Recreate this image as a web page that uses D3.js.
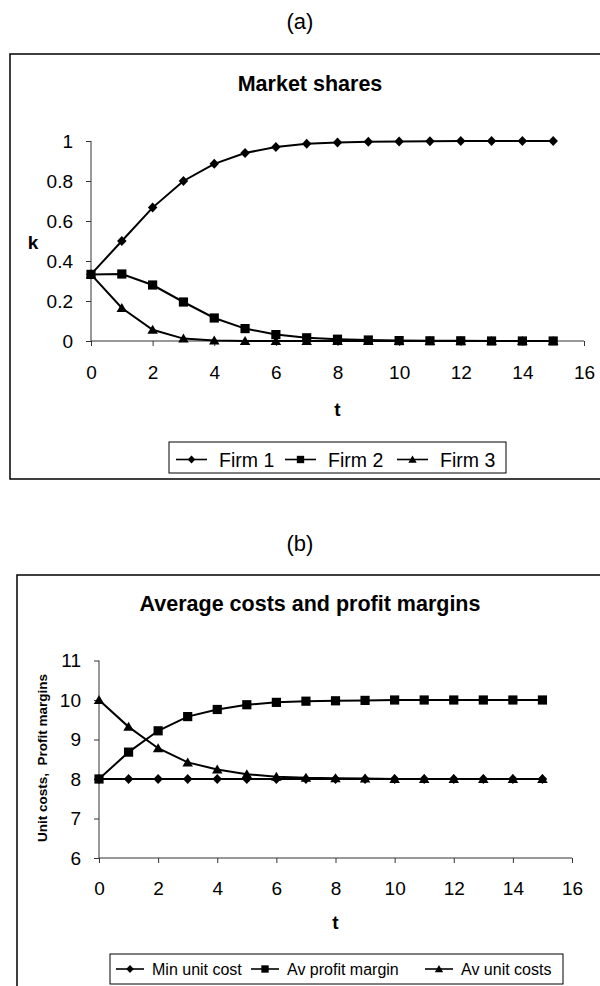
<!DOCTYPE html>
<html>
<head>
<meta charset="utf-8">
<script src="https://cdn.jsdelivr.net/npm/d3@7"></script>
<style>
  html, body { margin: 0; padding: 0; background: #fff; }
  svg { display: block; }
  text { font-family: Arial, "Liberation Sans", sans-serif; fill: #000; }
</style>
</head>
<body>
<svg id="chart" width="600" height="986"></svg>
<script>
// ---- Data ----
const periods = [0,1,2,3,4,5,6,7,8,9,10,11,12,13,14,15];

// Panel (a): market shares
const firm1 = [0.333,0.5,0.667,0.8,0.886,0.94,0.97,0.986,0.992,0.996,0.998,0.999,1,1,1,1];
const firm2 = [0.333,0.335,0.28,0.195,0.115,0.062,0.032,0.016,0.009,0.005,0.002,0.001,0.001,0,0,0];
const firm3 = [0.333,0.165,0.056,0.012,0.002,0,0,0,0,0,0,0,0,0,0,0];
const sharesTicksY = [0,0.2,0.4,0.6,0.8,1];
const sharesTickLabelsY = ["0","0.2","0.4","0.6","0.8","1"];
const ticksX = [0,2,4,6,8,10,12,14,16];
const sharesLegend = ["Firm 1","Firm 2","Firm 3"];

// Panel (b): costs and margins
const minUnitCost = [8,8,8,8,8,8,8,8,8,8,8,8,8,8,8,8];
const avProfitMargin = [8,8.68,9.22,9.58,9.76,9.88,9.94,9.97,9.98,9.99,10,10,10,10,10,10];
const avUnitCosts = [10,9.32,8.78,8.42,8.24,8.12,8.06,8.03,8.02,8.01,8,8,8,8,8,8];
const costTicksY = [6,7,8,9,10,11];
const costLegend = ["Min unit cost","Av profit margin","Av unit costs"];

// ---- Drawing ----
const svg = d3.select("#chart");

function markerPath(shape, s) {
  const p = d3.path();
  if (shape === "diamond") {
    p.moveTo(0,-s); p.lineTo(s*0.95,0); p.lineTo(0,s); p.lineTo(-s*0.95,0); p.closePath();
  } else if (shape === "square") {
    p.rect(-s*0.92,-s*0.92,s*1.84,s*1.84);
  } else {
    p.moveTo(0,-s*1.0); p.lineTo(s*1.05,s*0.8); p.lineTo(-s*1.05,s*0.8); p.closePath();
  }
  return p.toString();
}
const shapes = ["diamond","square","triangle"];

function drawPanel(cfg) {
  const g = svg.append("g");
  const x = d3.scaleLinear().domain([0,16]).range([cfg.x0, cfg.x1]);
  const y = d3.scaleLinear().domain(cfg.yDomain).range([cfg.y0, cfg.y1]);

  // frame
  g.append("path")
    .attr("d", `M${cfg.frame.r},${cfg.frame.t}H${cfg.frame.l}V${cfg.frame.b}` + (cfg.frame.closeBottom ? `H${cfg.frame.r}` : ""))
    .attr("fill","none").attr("stroke","#000").attr("stroke-width",1.5);

  // title
  g.append("text").attr("x", cfg.titleX).attr("y", cfg.titleY)
    .attr("text-anchor","middle").attr("font-weight","bold")
    .attr("font-size", 21.5).text(cfg.title);

  // axes
  const xAxis = d3.axisBottom(x).tickValues(ticksX).tickSize(5).tickPadding(cfg.xPad)
    .tickFormat(d3.format("d"));
  const gx = g.append("g").attr("transform", `translate(0,${cfg.y0})`).call(xAxis);
  const yAxis = d3.axisLeft(y).tickValues(cfg.yTicks).tickSize(5).tickPadding(13)
    .tickFormat((d,i) => cfg.yLabels[i]);
  const gy = g.append("g").attr("transform", `translate(${cfg.x0},0)`).call(yAxis);
  [gx, gy].forEach(a => {
    a.select(".domain").attr("stroke","#333").attr("stroke-width",1);
    a.selectAll(".tick line").attr("stroke","#333");
    a.selectAll(".tick text").attr("font-size", 19)
      .attr("font-family","Arial, 'Liberation Sans', sans-serif").attr("fill","#000");
  });
  gx.select(".domain").attr("d", `M${cfg.x0},0H${cfg.x1}`);
  gy.select(".domain").attr("d", `M0,${cfg.y0}V${cfg.y1}`);

  // axis titles
  g.append("text").attr("x", (cfg.x0+cfg.x1)/2).attr("y", cfg.xTitleY)
    .attr("text-anchor","middle").attr("font-weight","bold").attr("font-size",19).text("t");
  if (cfg.yTitleRot) {
    g.append("text").attr("transform", `translate(${cfg.yTitleX},${cfg.yTitleY}) rotate(-90)`)
      .attr("text-anchor","middle").attr("font-weight","bold").attr("font-size",cfg.yTitleSize)
      .attr("xml:space","preserve").style("white-space","pre").text(cfg.yTitle);
  } else {
    g.append("text").attr("x", cfg.yTitleX).attr("y", cfg.yTitleY)
      .attr("text-anchor","middle").attr("font-weight","bold").attr("font-size",cfg.yTitleSize).text(cfg.yTitle);
  }

  // series
  const line = d3.line().x((d,i) => x(periods[i])).y(d => y(d));
  cfg.series.forEach((s, k) => {
    g.append("path").datum(s).attr("d", line)
      .attr("fill","none").attr("stroke","#000").attr("stroke-width",2);
  });
  cfg.series.forEach((s, k) => {
    g.append("g").selectAll("path").data(s).join("path")
      .attr("transform", (d,i) => `translate(${x(periods[i])},${y(d)})`)
      .attr("d", markerPath(shapes[k], 5)).attr("fill","#000");
  });

  // legend
  const L = cfg.legend;
  g.append("rect").attr("x", L.x).attr("y", L.y).attr("width", L.w).attr("height", L.h)
    .attr("fill","#fff").attr("stroke","#000").attr("stroke-width",1);
  L.names.forEach((name, k) => {
    const lx = L.itemX[k];
    const cy = L.y + L.h/2 + L.dy;
    g.append("line").attr("x1", lx).attr("x2", lx + L.lineLen).attr("y1", cy).attr("y2", cy)
      .attr("stroke","#000").attr("stroke-width",1.6);
    g.append("path").attr("transform", `translate(${lx + L.lineLen/2},${cy})`)
      .attr("d", markerPath(shapes[k], 4)).attr("fill","#000");
    g.append("text").attr("x", lx + L.textOff).attr("y", cy).attr("dy","0.36em")
      .attr("font-size", L.fontSize).text(name);
  });
}

// panel labels
svg.append("text").attr("x",300).attr("y",29).attr("text-anchor","middle")
  .attr("font-family","'Liberation Serif', 'Times New Roman', serif").attr("font-size",22).text("(a)");
svg.append("text").attr("x",300).attr("y",551).attr("text-anchor","middle")
  .attr("font-family","'Liberation Serif', 'Times New Roman', serif").attr("font-size",22).text("(b)");

drawPanel({
  frame: {l:10, t:54, r:620, b:479, closeBottom:true},
  title: "Market shares", titleX: 310, titleY: 91,
  x0: 91, x1: 584, y0: 341, y1: 141, yDomain: [0,1], xPad: 20,
  yTicks: sharesTicksY, yLabels: sharesTickLabelsY,
  xTitleY: 416, yTitle: "k", yTitleX: 33, yTitleY: 249, yTitleSize: 19, yTitleRot: false,
  series: [firm1, firm2, firm3],
  legend: {x:169, y:442, w:337, h:31, dy:2, names: sharesLegend, itemX:[176,285,397], lineLen:31, textOff:43, fontSize:19.5}
});

drawPanel({
  frame: {l:17, t:575, r:620, b:1000, closeBottom:false},
  title: "Average costs and profit margins", titleX: 310, titleY: 611,
  x0: 99, x1: 572, y0: 858, y1: 660.5, yDomain: [6,11], xPad: 18.5,
  yTicks: costTicksY, yLabels: costTicksY.map(String),
  xTitleY: 929, yTitle: "Unit costs,  Profit margins", yTitleX: 47, yTitleY: 758, yTitleSize: 13.5, yTitleRot: true,
  series: [minUnitCost, avProfitMargin, avUnitCosts],
  legend: {x:110, y:954, w:453, h:30, dy:0, names: costLegend, itemX:[116,251,425], lineLen:28, textOff:36, fontSize:16}
});
</script>
</body>
</html>
